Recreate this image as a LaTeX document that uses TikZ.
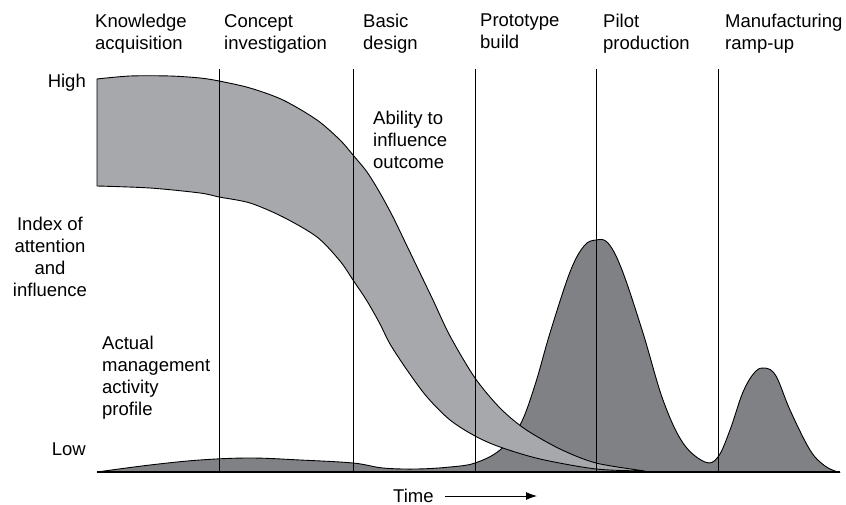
\documentclass[tikz,border=0pt]{standalone}
\usepackage{fontspec}
\setmainfont{Liberation Sans}
\usetikzlibrary{arrows.meta,positioning}

\definecolor{bandgray}{RGB}{167,168,172}
\definecolor{peakgray}{RGB}{128,129,133}

\tikzset{
  lbl/.style={inner sep=0pt, font=\fontsize{18.5}{22}\selectfont},
  phase/.style={lbl, align=left, anchor=north west},
  curve/.style={draw=black, line width=0.9pt},
}

\begin{document}
\begin{tikzpicture}[x=1pt, y=-1pt]
\useasboundingbox (0,0) rectangle (846,505);

% Activity profile
\draw[curve, fill=peakgray] plot[smooth, tension=0.6] coordinates {
  (97,472) (150,465) (200,460) (250,458) (300,460) (353,463) (383,468)
  (417,469) (450,467) (475,463) (500,450) (520,425) (535,385) (550,333)
  (570,272) (584,246) (596,240) (608,243) (622,270) (643,333) (663,400)
  (683,443) (705,462) (718,457) (730,430) (743,392) (755,372) (765,368)
  (776,376) (790,410) (810,450) (825,466) (838,472)} -- cycle;

% Ability band
\draw[curve, fill=bandgray] (97,186) -- (97,79)
  -- plot[smooth, tension=0.5] coordinates {
  (97,79) (130,76) (170,76) (200,78) (219,81) (250,88) (283,100) (317,120)
  (340,140) (353,155) (367,172) (380,193) (393,217) (407,246) (420,273)
  (433,300) (450,336) (475,378) (500,408) (525,429) (560,449) (596,463)
  (645,471)}
  -- plot[smooth, tension=0.5] coordinates {
  (645,471) (596,469) (540,459) (500,447) (475,436) (450,420) (427,397)
  (407,370) (390,344) (380,324) (367,301) (353,280) (340,261) (317,237)
  (283,217) (250,203) (219,197) (200,193) (150,188) (97,186)} -- cycle;

% Phase lines and axis
\foreach \x in {219,353,475,596,718}
  \draw[line width=0.9pt] (\x,69) -- (\x,472);
\draw[line width=1.3pt] (97,472) -- (840,472);

% Phase labels
\node[phase] (knowledge) at (95,14) {Knowledge\\acquisition};
\node[phase] (concept) at (224,14) {Concept\\investigation};
\node[phase] (basic) at (363,14) {Basic\\design};
\node[phase] (prototype) at (480,14) {Prototype\\build};
\node[phase] (pilot) at (603,14) {Pilot\\production};
\node[phase] (ramp) at (725,14) {Manufacturing\\ramp-up};

% Axis labels
\node[lbl, anchor=east] (high) at (86,83) {High};
\node[lbl, anchor=east] (low) at (86,449) {Low};
\node[lbl, align=center] (index) at (50,257) {Index of\\attention\\and\\influence};
\node[lbl, align=left, anchor=west] (ability) at (373,140) {Ability to\\influence\\outcome};
\node[lbl, align=left, anchor=west] (actual) at (102,378) {Actual\\management\\activity\\profile};

% Time arrow
\node[lbl, anchor=west] (time) at (393,496) {Time};
\coordinate (timeend) at (537,496);
\draw[line width=0.9pt, -{Latex[length=11pt,width=8pt]}, shorten <=11pt] (time.east) -- (timeend);
\end{tikzpicture}
\end{document}
